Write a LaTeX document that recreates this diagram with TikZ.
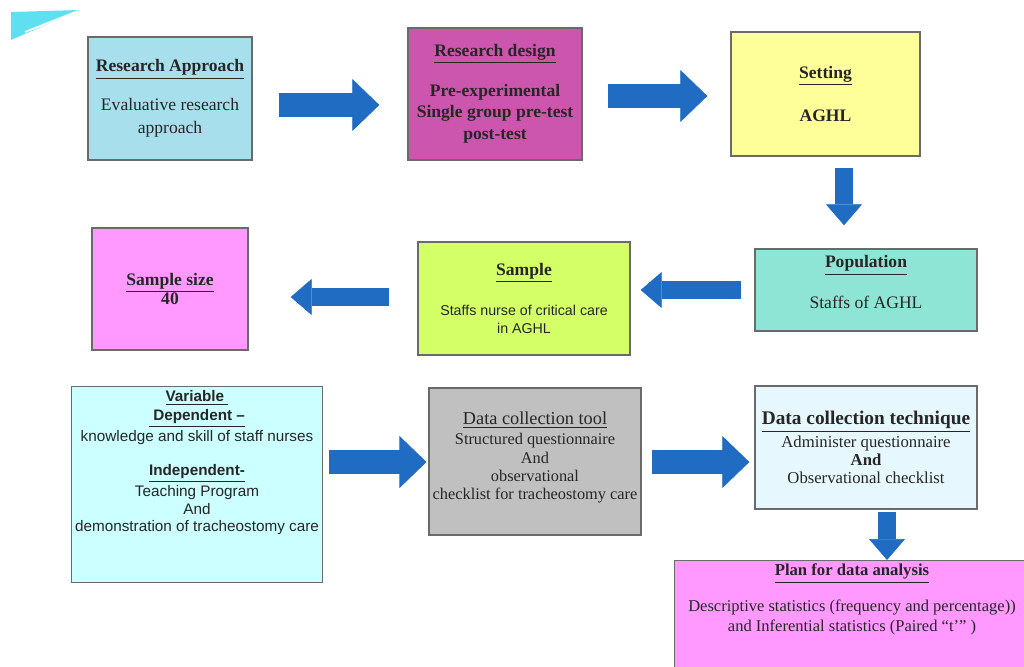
\documentclass[tikz,border=0pt]{standalone}
\usepackage{fontspec}
\setmainfont{Liberation Serif}
\newfontfamily\arialfont{Liberation Sans}
\usetikzlibrary{arrows.meta,positioning}
\definecolor{boxgray}{HTML}{6A6A6A}
\definecolor{arrowblue}{HTML}{1F6CC2}
\definecolor{approachfill}{HTML}{A8DFEC}
\definecolor{designfill}{HTML}{CC55AE}
\definecolor{settingfill}{HTML}{FFFF99}
\definecolor{popfill}{HTML}{8FE5D5}
\definecolor{samplefill}{HTML}{D4FF66}
\definecolor{pinkfill}{HTML}{FF99FF}
\definecolor{varfill}{HTML}{CCFFFF}
\definecolor{toolfill}{HTML}{C0C0C0}
\definecolor{techfill}{HTML}{E6F8FD}
\definecolor{wedgecyan}{HTML}{5FE0F0}

\begin{document}
\begin{tikzpicture}[
  x=0.02cm, y=-0.02cm,
  block/.style={rectangle, draw=boxgray, line width=0.8pt,
    align=center, inner sep=2pt, text=black!85,
    font=\fontsize{10}{13}\selectfont},
  wide arrow/.style={line width=0.48cm, draw=arrowblue,
    -{Triangle[length=0.54cm, width=1.04cm, line width=0.4pt]}},
  thin arrow/.style={line width=0.36cm, draw=arrowblue,
    -{Triangle[length=0.42cm, width=0.72cm, line width=0.4pt]}},
]
  \useasboundingbox (0,0) rectangle (1024,666);
  \fill[white] (0,0) rectangle (1024,666);
  \clip (0,0) rectangle (1024,666);

  % corner decoration
  \fill[wedgecyan] (11,12) -- (80,10) -- (11,40) -- cycle;
  \draw[white, line width=1pt] (25,32) -- (78,11);

  % first row
  \node[block, fill=approachfill, minimum width=3.28cm, minimum height=2.46cm]
    (approach) at (170,98.5)
    {\underline{\textbf{Research Approach}}\\[9pt]Evaluative research\\approach};
  \node[block, fill=designfill, minimum width=3.48cm, minimum height=2.64cm,
    font=\fontsize{10}{12.5}\selectfont\bfseries]
    (design) at (495,94)
    {\underline{Research design}\\[10pt]Pre-experimental\\Single group pre-test\\post-test};
  \node[block, fill=settingfill, minimum width=3.78cm, minimum height=2.48cm,
    font=\fontsize{10}{13}\selectfont\bfseries]
    (setting) at (825.5,94)
    {\underline{Setting}\\[12pt]AGHL};

  % second row
  \node[block, fill=popfill, minimum width=4.44cm, minimum height=1.64cm]
    (population) at (866,290)
    {\underline{\textbf{Population}}\\[10pt]Staffs of AGHL\\[-4pt]\mbox{}};
  \node[block, fill=samplefill, minimum width=4.24cm, minimum height=2.26cm,
    font=\arialfont\fontsize{8.1}{10.5}\selectfont]
    (sample) at (524,298.5)
    {\rmfamily\fontsize{10}{13}\selectfont\underline{\textbf{Sample}}\\[12pt]
     Staffs nurse of critical care\\in AGHL};
  \node[block, fill=pinkfill, minimum width=3.12cm, minimum height=2.44cm,
    font=\fontsize{10}{11}\selectfont\bfseries]
    (samplesize) at (170,289)
    {\underline{Sample size}\\40};

  % third row
  \node[block, fill=varfill, minimum width=5cm, anchor=north,
    font=\arialfont\fontsize{8.7}{10}\selectfont]
    (variable) at (197,386)
    {\underline{\textbf{Variable~}}\\[1pt]\underline{\textbf{~Dependent –}}\\[1pt]
     knowledge and skill of staff nurses\\[9pt]
     \underline{\textbf{Independent-}}\\[1pt]Teaching Program\\And\\
     demonstration of tracheostomy care\\[17pt]\mbox{}};
  \node[block, fill=toolfill, minimum width=4.2cm, minimum height=2.94cm,
    font=\fontsize{9.3}{10.5}\selectfont]
    (tool) at (535,461.5)
    {\underline{\fontsize{10.4}{10.5}\selectfont Data collection tool}\\[1pt]
     Structured questionnaire\\And\\observational\\
     checklist for tracheostomy care\\[-4pt]\mbox{}};
  \node[block, fill=techfill, minimum width=4.44cm, minimum height=2.46cm,
    font=\fontsize{9.5}{10.5}\selectfont]
    (technique) at (866,447.5)
    {\underline{\fontsize{11}{12}\selectfont\textbf{Data collection technique}}\\[1pt]
     Administer questionnaire\\\textbf{And}\\Observational checklist};
  \node[block, fill=pinkfill, minimum width=7.1cm, anchor=north,
    font=\fontsize{9.4}{11.3}\selectfont]
    (plan) at (852,560)
    {\underline{\fontsize{9.5}{11}\selectfont\textbf{Plan for data analysis}}\\[9pt]
     Descriptive statistics (frequency and percentage))\\
     and Inferential statistics (Paired “t’” )\\[18pt]\mbox{}};

  % connectors
  \draw[wide arrow, shorten <=0.52cm, shorten >=0.56cm]
    (approach.east |- 0,105) -- (design.west |- 0,105);
  \draw[wide arrow, shorten <=0.5cm, shorten >=0.46cm]
    (design.east |- 0,96) -- (setting.west |- 0,96);
  \draw[thin arrow, shorten <=0.22cm, shorten >=0.46cm]
    (setting.south -| 844,0) -- (population.north -| 844,0);
  \draw[thin arrow, shorten <=0.26cm, shorten >=0.2cm]
    (population.west |- 0,290) -- (sample.east |- 0,290);
  \draw[thin arrow, shorten <=0.56cm, shorten >=0.84cm]
    (sample.west |- 0,297) -- (samplesize.east |- 0,297);
  \draw[wide arrow, shorten <=0.12cm, shorten >=0.04cm]
    (variable.east |- 0,462) -- (tool.west |- 0,462);
  \draw[wide arrow, shorten <=0.2cm, shorten >=0.1cm]
    (tool.east |- 0,462) -- (technique.west |- 0,462);
  \draw[thin arrow, shorten <=0.04cm]
    (technique.south -| 887,0) -- (plan.north -| 887,0);
\end{tikzpicture}
\end{document}
